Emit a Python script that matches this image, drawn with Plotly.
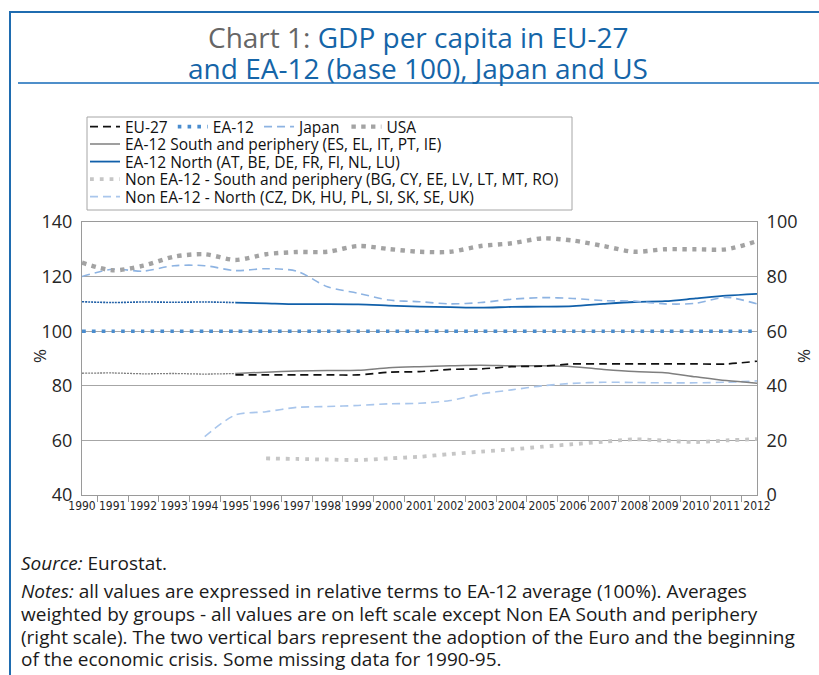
import plotly.graph_objects as go

# ---------------- data ----------------
years = [str(y) for y in range(1990, 2013)]

eu27 = [None, None, None, None, None,
        84, 84, 84, 84, 84, 85, 85.2, 86, 86.2, 87, 87.2, 88, 88, 88, 88, 88, 88, 89]
ea12 = [100, 100, 100, 100, 100, 100, 100, 100, 100, 100, 100, 100,
        100, 100, 100, 100, 100, 100, 100, 100, 100, 100, 100]
japan = [120, 122.7, 122, 124, 124, 122.2, 122.9, 122, 116.3, 113.9, 111.4, 110.8,
         110, 110.5, 111.7, 112.3, 112, 111.2, 111, 110, 110.2, 112.4, 110]
usa = [125.1, 122.3, 124, 127.3, 128.2, 126.1, 128.2, 129, 129.1, 131.2, 130.1, 129.1,
       129.1, 131.2, 132.2, 134, 133.2, 131.2, 129.1, 130, 130, 130, 133]
ea12_south = [84.6, 84.7, 84.4, 84.5, 84.3, 84.5, 85, 85.4, 85.6, 85.7, 86.6, 87,
              87.3, 87.5, 87.3, 87.3, 87, 86, 85.2, 84.8, 83.3, 81.9, 80.9]
ea12_north = [110.8, 110.5, 110.7, 110.6, 110.7, 110.5, 110.2, 109.9, 109.9, 109.8, 109.4, 109,
              108.8, 108.6, 108.9, 109, 109.2, 110, 110.7, 111, 112, 113, 113.7]
non_south = [None, None, None, None, None, None,
             13.4, 13.2, 13, 12.8, 13.4, 14, 15, 15.9, 16.7, 17.7, 18.6, 19.5, 20.4, 19.9, 19.4, 20, 20.5]
non_north = [None, None, None, None,
             61.4, 69.3, 70.5, 72.1, 72.4, 72.8, 73.4, 73.6, 74.6, 77, 78.5, 80, 80.9, 81.3, 81.2, 81.1, 81.1, 81.3, 81.8]

names = {
    "eu27": "EU-27",
    "ea12": "EA-12",
    "japan": "Japan",
    "usa": "USA",
    "south": "EA-12 South and periphery (ES, EL, IT, PT, IE)",
    "north": "EA-12 North (AT, BE, DE, FR, FI, NL, LU)",
    "nsouth": "Non EA-12 - South and periphery (BG, CY, EE, LV, LT, MT, RO)",
    "nnorth": "Non EA-12 - North (CZ, DK, HU, PL, SI, SK, SE, UK)",
}
split = 5  # 1995: partial data before

# ---------------- geometry helpers (screen pixels; body margin removed) ----------------
W, H = 819, 675
SL, SR, ST, SB = 82, 757, 222, 495   # plot area in screen pixels


def px(x):
    return (x - SL) / (SR - SL)


def py(y):
    return (SB - y) / (SB - ST)


FONT = "Open Sans, Noto Sans, DejaVu Sans, sans-serif"
TXT = "#262626"

fig = go.Figure()


def line(x, y, name, color, width, dash, legend="legend", show=True, yaxis="y"):
    fig.add_trace(go.Scatter(
        x=x, y=y, name=name, mode="lines", yaxis=yaxis,
        line=dict(color=color, width=width, dash=dash, shape="spline", smoothing=0.8),
        legend=legend, showlegend=show, connectgaps=False, hoverinfo="skip"))


# partial-data segments before 1995
line(years[:split + 1], ea12_south[:split + 1], names["south"], "#7f7f7f", 1.3, "2px,1px", "legend2", False)
line(years[:split + 1], ea12_north[:split + 1], names["north"], "#1f5fa6", 1.6, "2px,1px", "legend3", False)

line(years, non_north, names["nnorth"], "#a9c6ec", 1.6, "8px,5px", "legend5")
line(years, non_south, names["nsouth"], "#c6c6c6", 3.8, "3.8px,6px", "legend4", yaxis="y2")
line(years[split:], ea12_south[split:], names["south"], "#7f7f7f", 1.5, "solid", "legend2")
line(years[split:], ea12_north[split:], names["north"], "#1160aa", 1.8, "solid", "legend3")
line(years, ea12, names["ea12"], "#4a8dcf", 3.6, "3.6px,6.2px", "legend")
line(years, japan, names["japan"], "#8db3e2", 1.6, "8px,5px", "legend")
line(years, usa, names["usa"], "#a3a3a3", 4.4, "4.4px,5.4px", "legend")
line(years, eu27, names["eu27"], "#111111", 1.7, "8px,5px", "legend")

order = {names["eu27"]: 1, names["ea12"]: 2, names["japan"]: 3, names["usa"]: 4}
for tr in fig.data:
    if tr.name in order:
        tr.legendrank = order[tr.name]

legfont = dict(family=FONT, size=15.5, color="#111111")
leg_common = dict(xanchor="left", yanchor="middle", font=legfont,
                  bgcolor="rgba(0,0,0,0)", borderwidth=0, itemwidth=30,
                  itemclick=False, itemdoubleclick=False)
LX = px(85)

fig.update_layout(
    width=W, height=H,
    margin=dict(l=SL, r=W - SR, t=ST, b=H - SB, autoexpand=False),
    paper_bgcolor="white", plot_bgcolor="white",
    font=dict(family=FONT, color=TXT),
    showlegend=True,
    legend=dict(orientation="h", x=LX, y=py(127), **leg_common),
    legend2=dict(orientation="v", x=LX, y=py(144.5), **leg_common),
    legend3=dict(orientation="v", x=LX, y=py(162), **leg_common),
    legend4=dict(orientation="v", x=LX, y=py(179.5), **leg_common),
    legend5=dict(orientation="v", x=LX, y=py(197), **leg_common),
    xaxis=dict(type="category", showgrid=False, showline=True, linecolor="#9a9a9a",
               linewidth=1, mirror=True, ticks="outside", tickson="boundaries",
               ticklen=6, tickcolor="#9a9a9a", tickangle=0,
               tickfont=dict(family="Liberation Sans Narrow, DejaVu Sans Condensed, Roboto, sans-serif",
                             size=12, color=TXT),
               zeroline=False, fixedrange=True),
    yaxis=dict(range=[40, 140], dtick=20, showgrid=True, gridcolor="#a6a6a6", gridwidth=1,
               showline=True, linecolor="#9a9a9a", linewidth=1, ticks="",
               tickfont=dict(family=FONT, size=18, color=TXT), zeroline=False, ticklabelstandoff=5),
    yaxis2=dict(range=[0, 100], dtick=20, overlaying="y", side="right", showgrid=False,
                showline=True, linecolor="#9a9a9a", linewidth=1, ticks="",
                tickfont=dict(family=FONT, size=18, color=TXT), zeroline=False, ticklabelstandoff=5),
)

shapes = [
    # blue frame: left and top edges (right/bottom run off the page)
    dict(type="line", xref="paper", yref="paper", x0=px(10), x1=px(10), y0=py(11), y1=py(690),
         line=dict(color="#1f6cb0", width=2)),
    dict(type="line", xref="paper", yref="paper", x0=px(9), x1=px(830), y0=py(12), y1=py(12),
         line=dict(color="#1f6cb0", width=2)),
    # title underline
    dict(type="line", xref="paper", yref="paper", x0=px(18), x1=px(830), y0=py(83), y1=py(83),
         line=dict(color="#4f8fca", width=2)),
    # legend frame
    dict(type="rect", xref="paper", yref="paper", x0=px(87), x1=px(572), y0=py(117), y1=py(210),
         line=dict(color="#a6a6a6", width=1), fillcolor="rgba(0,0,0,0)", layer="below"),
]
fig.update_layout(shapes=shapes)

ann = []
ann.append(dict(xref="paper", yref="paper", x=px(418), y=py(37), xanchor="center", yanchor="middle",
                text='<span style="color:#666666">Chart 1: </span>GDP per capita in EU-27',
                font=dict(family=FONT, size=28, color="#1565a8"), showarrow=False))
ann.append(dict(xref="paper", yref="paper", x=px(418), y=py(68), xanchor="center", yanchor="middle",
                text='and EA-12 (base 100), Japan and US',
                font=dict(family=FONT, size=28, color="#1565a8"), showarrow=False))
ann.append(dict(xref="paper", yref="paper", x=px(39), y=py(356), xanchor="center", yanchor="middle",
                text="%", textangle=-90,
                font=dict(family=FONT, size=17, color=TXT), showarrow=False))
ann.append(dict(xref="paper", yref="paper", x=px(803), y=py(356), xanchor="center", yanchor="middle",
                text="%", textangle=-90,
                font=dict(family=FONT, size=17, color=TXT), showarrow=False))

note_lines = [
    (563, "<i>Source:</i> Eurostat."),
    (591, "<i>Notes:</i> all values are expressed in relative terms to EA-12 average (100%). Averages"),
    (614, "weighted by groups - all values are on left scale except Non EA South and periphery"),
    (637, "(right scale). The two vertical bars represent the adoption of the Euro and the beginning"),
    (659, "of the economic crisis. Some missing data for 1990-95."),
]
for yy, t in note_lines:
    ann.append(dict(xref="paper", yref="paper", x=px(19), y=py(yy), xanchor="left", yanchor="middle",
                    text=t, font=dict(family=FONT, size=19, color="#1a1a1a"), showarrow=False, align="left"))
fig.update_layout(annotations=ann)

fig.write_html("out.html",
               config={"displayModeBar": False},
               post_script="document.body.style.margin='0';document.body.style.overflow='hidden';")
